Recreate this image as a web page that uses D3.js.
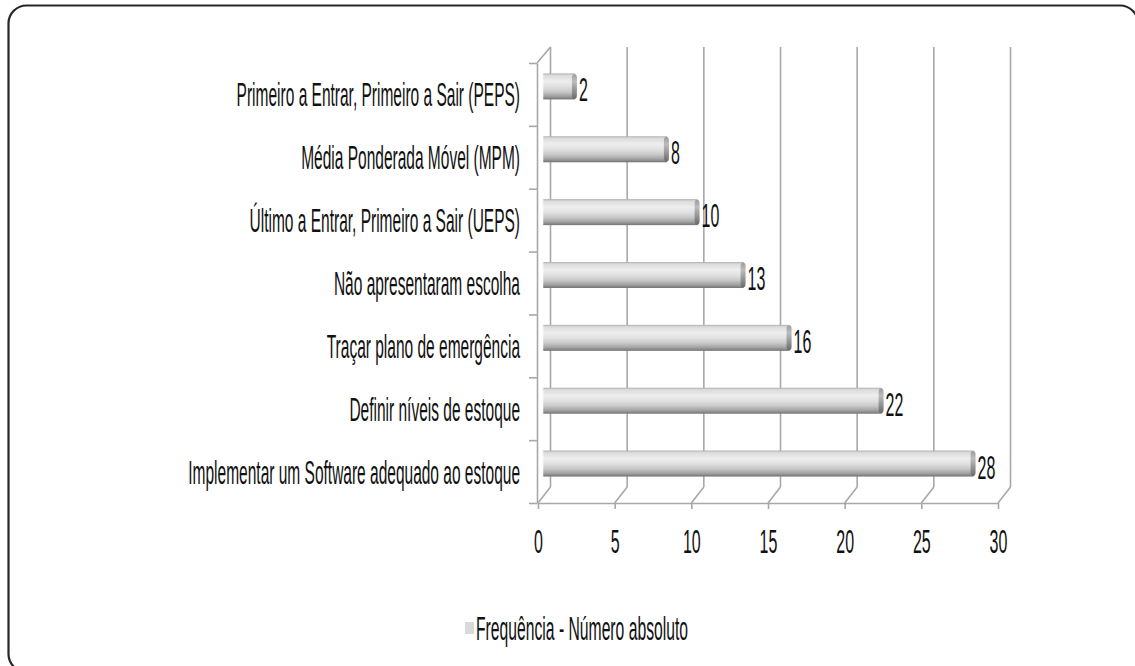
<!DOCTYPE html>
<html>
<head>
<meta charset="utf-8">
<script src="https://cdn.jsdelivr.net/npm/d3@7"></script>
<style>
  body { margin: 0; background: #fff; }
  svg { display: block; }
  text { font-family: "Liberation Sans", Arial, sans-serif; fill: #111; }
</style>
</head>
<body>
<svg id="chart" width="1135" height="666"></svg>
<script>
// Categories from top to bottom, with their absolute frequencies
const categories = [
  "Primeiro a Entrar, Primeiro a Sair (PEPS)",
  "Média Ponderada Móvel (MPM)",
  "Último a Entrar, Primeiro a Sair (UEPS)",
  "Não apresentaram escolha",
  "Traçar plano de emergência",
  "Definir níveis de estoque ",
  "Implementar um Software adequado ao estoque"
];
const values = [2, 8, 10, 13, 16, 22, 28];
const xTicks = [0, 5, 10, 15, 20, 25, 30];
const seriesName = "Frequência - Número absoluto";

const svg = d3.select("#chart");
const defs = svg.append("defs");

// Narrow, tall lettering
const NARROW = 0.47;
const LABEL_SIZE = 33;
const NUM_SIZE = 34;

// Front plane of the 3D plot area, and the depth offset to the back wall
const x = d3.scaleLinear().domain([0, 30]).range([538, 998]);
const y = d3.scaleBand().domain(categories).range([63, 503]).padding(0);
const rows = d3.scaleLinear().domain([0, categories.length]).range([63, 503]);
const depthX = 12.5, depthY = -16;
const floorY = y.range()[1];
const topY = y.range()[0];
const gridColor = "#a8a8a8";

// Rounded outer frame (its right and bottom sides run past the page edge)
const r = 18, fx0 = 8.5, fy0 = 5.5, fx1 = 1138, fy1 = 672;
const frame = d3.path();
frame.moveTo(fx1, fy0 + r);
frame.arcTo(fx1, fy0, fx1 - r, fy0, r);
frame.lineTo(fx0 + r, fy0);
frame.arcTo(fx0, fy0, fx0, fy0 + r, r);
frame.lineTo(fx0, fy1 - r);
frame.arcTo(fx0, fy1, fx0 + r, fy1, r);
svg.append("path")
  .attr("d", frame.toString())
  .attr("fill", "none")
  .attr("stroke", "#262626").attr("stroke-width", 2.2);

// Bar shading (horizontal cylinder look)
const barGrad = defs.append("linearGradient")
  .attr("id", "barGrad").attr("x1", 0).attr("y1", 0).attr("x2", 0).attr("y2", 1);
[[0, "#acacac"], [0.07, "#dadada"], [0.3, "#eeeeee"], [0.5, "#e1e1e1"],
 [0.7, "#c9c9c9"], [0.88, "#a0a0a0"], [1, "#737373"]]
  .forEach(([o, c]) => barGrad.append("stop").attr("offset", o).attr("stop-color", c));

const capGrad = defs.append("linearGradient")
  .attr("id", "capGrad").attr("x1", 0).attr("y1", 0).attr("x2", 0).attr("y2", 1);
[[0, "#9c9c9c"], [0.3, "#bcbcbc"], [0.6, "#9a9a9a"], [1, "#6a6a6a"]]
  .forEach(([o, c]) => capGrad.append("stop").attr("offset", o).attr("stop-color", c));

const chart = svg.append("g");

// Back wall gridlines
chart.append("g").selectAll("line")
  .data(xTicks).join("line")
  .attr("x1", d => x(d) + depthX).attr("x2", d => x(d) + depthX)
  .attr("y1", topY + depthY).attr("y2", floorY + depthY)
  .attr("stroke", gridColor).attr("stroke-width", 1.6);

// Floor depth lines from front ticks to back wall
chart.append("g").selectAll("line")
  .data(xTicks).join("line")
  .attr("x1", d => x(d)).attr("x2", d => x(d) + depthX)
  .attr("y1", floorY).attr("y2", floorY + depthY)
  .attr("stroke", gridColor).attr("stroke-width", 1.6);

// Top edge of the left wall
chart.append("line")
  .attr("x1", x(0) - 1).attr("y1", topY)
  .attr("x2", x(0) + depthX).attr("y2", topY + depthY)
  .attr("stroke", gridColor).attr("stroke-width", 1.6);

// Category axis on the front-left edge (ticks between rows)
const yAxis = chart.append("g")
  .attr("transform", `translate(${x(0) - 1},0)`)
  .call(d3.axisLeft(rows).tickValues(d3.range(categories.length + 1))
    .tickFormat("").tickSize(8).tickSizeOuter(0));
yAxis.selectAll("path, line").attr("stroke", gridColor).attr("stroke-width", 1.6);

// Value axis on the front floor edge
const xAxis = chart.append("g")
  .attr("transform", `translate(0,${floorY})`)
  .call(d3.axisBottom(x).tickValues(xTicks).tickSize(6).tickSizeOuter(0).tickPadding(20));
xAxis.select(".domain").attr("stroke", gridColor).attr("stroke-width", 1.6);
xAxis.selectAll(".tick line").attr("stroke", gridColor).attr("stroke-width", 1.6);
xAxis.selectAll(".tick text")
  .attr("font-size", NUM_SIZE).attr("fill", "#111")
  .attr("font-family", "Liberation Sans, Arial, sans-serif")
  .attr("dy", "0.71em")
  .attr("transform", `scale(${NARROW},1)`);

// Bars, sitting half way into the depth
const barH = 26;
const bars = chart.append("g").selectAll("g")
  .data(values.map((v, i) => ({ v, c: categories[i] })))
  .join("g");

bars.append("rect")
  .attr("x", x(0) + depthX / 2 - 1)
  .attr("y", d => y(d.c) + y.bandwidth() / 2 + depthY / 2 - barH / 2)
  .attr("width", d => x(d.v) - x(0) + 1)
  .attr("height", barH)
  .attr("fill", "url(#barGrad)");

bars.append("rect")
  .attr("x", d => x(d.v) + depthX / 2 - 3)
  .attr("y", d => y(d.c) + y.bandwidth() / 2 + depthY / 2 - barH / 2 + 0.5)
  .attr("width", 5)
  .attr("height", barH - 1)
  .attr("rx", 2.5).attr("ry", 4)
  .attr("fill", "url(#capGrad)");

// Value labels next to bar ends
bars.append("text")
  .attr("transform", d => `translate(${x(d.v) + depthX / 2 + 4},${y(d.c) + y.bandwidth() / 2 + depthY / 2 + 15}) scale(${NARROW},1)`)
  .attr("font-size", NUM_SIZE)
  .text(d => d.v);

// Category labels
chart.append("g").selectAll("text")
  .data(categories).join("text")
  .attr("transform", d => `translate(520,${y(d) + y.bandwidth() / 2 + 12}) scale(${NARROW},1)`)
  .attr("text-anchor", "end")
  .attr("font-size", LABEL_SIZE)
  .text(d => d);

// Legend
const legend = svg.append("g");
legend.append("rect")
  .attr("x", 465).attr("y", 622).attr("width", 9).attr("height", 12)
  .attr("fill", "#d9d9d9");
legend.append("text")
  .attr("transform", `translate(476,640) scale(0.476,1)`)
  .attr("font-size", LABEL_SIZE)
  .text(seriesName);
</script>
</body>
</html>
